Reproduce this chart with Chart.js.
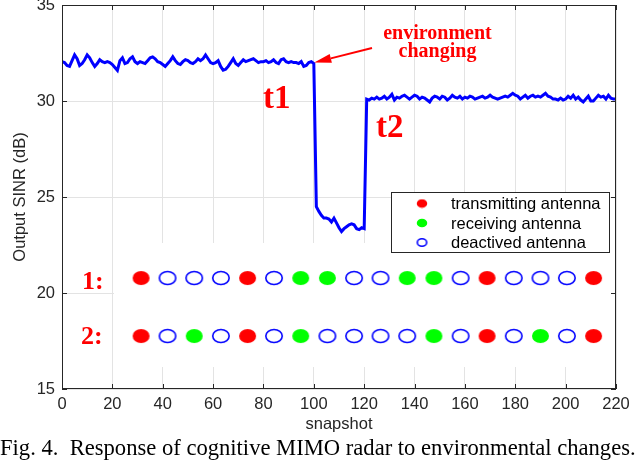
<!DOCTYPE html>
<html>
<head>
<meta charset="utf-8">
<script src="https://cdn.jsdelivr.net/npm/chart.js@4.4.1/dist/chart.umd.min.js"></script>
<style>
    html, body { margin: 0; padding: 0; background: #fff; }
    #wrap { position: relative; width: 640px; height: 464px; }
    #grafico { position: absolute; left: 0; top: 0; }
    #legenda-fig {
        position: absolute; left: 0; top: 435px;
        font-family: "Liberation Serif", "Times New Roman", serif;
        font-size: 22.6px; white-space: pre; color: #000;
    }
</style>
</head>
<body>
<div id="wrap">
    <canvas id="grafico" width="640" height="464"></canvas>
    <div id="legenda-fig">Fig. 4.  Response of cognitive MIMO radar to environmental changes.</div>
</div>
<script>
// Output SINR por snapshot (0..220)
const sinr = [
    32.05, 32.0, 31.85, 31.8, 32.1, 32.4, 32.2, 31.85, 31.95, 32.15,
    32.4, 32.25, 32.0, 31.8, 31.95, 32.15, 32.05, 32.0, 32.05, 32.0,
    31.9, 31.75, 31.6, 32.1, 32.25, 31.95, 32.0, 32.2, 32.3, 32.05,
    31.95, 32.05, 32.0, 31.95, 32.1, 32.25, 32.3, 32.2, 32.05, 32.0,
    31.9, 31.8, 31.95, 32.1, 32.3, 32.1, 31.95, 31.9, 32.05, 32.15,
    32.1, 32.0, 31.95, 32.05, 32.2, 32.1, 32.2, 32.4, 32.2, 32.0,
    31.95, 32.0, 32.1, 31.8, 31.6, 31.65, 31.8, 32.0, 32.2, 31.95,
    31.85, 32.0, 32.15, 32.05, 32.1, 32.15, 32.2, 32.1, 32.0, 32.05,
    32.05, 32.1, 32.0, 32.05, 32.15, 32.0, 31.95, 32.15, 32.2, 32.05,
    32.0, 32.05, 32.0, 32.0, 31.95, 32.05, 31.8, 31.85, 32.0, 32.05,
    31.95,
    24.5, 24.25, 24.05, 23.9, 23.9, 23.85, 23.7, 23.9, 23.65, 23.4,
    23.2, 23.35, 23.45, 23.55, 23.6, 23.55, 23.35, 23.3, 23.4, 23.35,
    30.1, 30.05, 30.15, 30.1, 30.2, 30.1, 30.15, 30.25, 30.1, 30.2,
    30.35, 30.05, 30.2, 30.15, 30.25, 30.3, 30.2, 30.1, 30.2, 30.3,
    30.25, 30.1, 30.2, 30.15, 30.05, 29.95, 30.15, 30.25, 30.2, 30.1,
    30.25, 30.2, 30.05, 30.15, 30.3, 30.2, 30.15, 30.25, 30.1, 30.2,
    30.15, 30.25, 30.2, 30.1, 30.15, 30.2, 30.25, 30.15, 30.2, 30.3,
    30.2, 30.15, 30.1, 30.15, 30.2, 30.25, 30.2, 30.3, 30.4, 30.3,
    30.25, 30.1, 30.2, 30.3, 30.15, 30.25, 30.3, 30.2, 30.25, 30.2,
    30.3, 30.4, 30.25, 30.2, 30.1, 30.1, 30.05, 30.15, 30.05, 30.1,
    30.25, 30.15, 30.3, 30.1, 30.2, 30.05, 29.95, 30.1, 30.25, 30.0,
    30.0, 30.15, 30.3, 30.2, 30.25, 30.1, 30.3, 30.15, 30.1, 30.1
];

// Antenas: posição no eixo x e estado (T = transmissora, R = receptora, D = desativada)
const posicoesAntena = [31.4, 41.9, 52.5, 63.1, 73.7, 84.2, 94.8, 105.4, 116.0,
    126.5, 137.1, 147.7, 158.3, 168.8, 179.4, 190.0, 200.5, 211.1];
const estadosLinha1 = ['T','D','D','D','T','D','R','R','D','D','R','R','D','T','D','D','D','T'];
const estadosLinha2 = ['T','D','R','D','T','D','R','D','D','D','D','R','D','T','D','R','D','T'];
const nivelLinha1 = 20.78;
const nivelLinha2 = 17.76;

const ticksX = [0, 20, 40, 60, 80, 100, 120, 140, 160, 180, 200, 220];
const ticksY = [15, 20, 25, 30, 35];
const rotulosLegenda = ['transmitting antenna', 'receiving antenna', 'deactived antenna'];

const VERMELHO = '#ff0000';
const VERDE = '#00ff00';
const AZUL = '#0000ff';
const EIXO = '#262626';
const fonteEixo = { family: 'Liberation Sans, Arial, sans-serif', size: 16.5 };

function criarMarcador(w, h, cor, preenchido) {
    const c = document.createElement('canvas');
    c.width = w + 2;
    c.height = h + 2;
    const g = c.getContext('2d');
    g.beginPath();
    if (preenchido) {
        g.ellipse(c.width / 2, c.height / 2, w / 2, h / 2, 0, 0, Math.PI * 2);
        g.fillStyle = cor;
        g.fill();
    } else {
        g.ellipse(c.width / 2, c.height / 2, w / 2 - 0.8, h / 2 - 0.8, 0, 0, Math.PI * 2);
        g.lineWidth = 1.6;
        g.strokeStyle = cor;
        g.stroke();
    }
    return c;
}

const marcadores = {
    T: criarMarcador(17, 14, VERMELHO, true),
    R: criarMarcador(17, 14, VERDE, true),
    D: criarMarcador(18, 14.5, AZUL, false)
};
const marcadoresLegenda = [
    criarMarcador(10.5, 8.5, VERMELHO, true),
    criarMarcador(10.5, 8.5, VERDE, true),
    criarMarcador(11, 9, AZUL, false)
];

function pontosDoEstado(estado) {
    const pts = [];
    estadosLinha1.forEach((e, i) => { if (e === estado) pts.push({ x: posicoesAntena[i], y: nivelLinha1 }); });
    estadosLinha2.forEach((e, i) => { if (e === estado) pts.push({ x: posicoesAntena[i], y: nivelLinha2 }); });
    return pts;
}

// Plugin com o retângulo branco, legenda, moldura e anotações
const pluginFigura = {
    id: 'figura',
    afterDatasetDraw(chart, args) {
        if (args.index !== 0) return;
        const ctx = chart.ctx;
        const x = chart.scales.x;
        // painel branco atrás das antenas
        ctx.save();
        ctx.fillStyle = '#ffffff';
        ctx.fillRect(114, 243, x.right - 114, 124);
        ctx.restore();
    },
    afterDatasetsDraw(chart) {
        const ctx = chart.ctx;
        const a = chart.chartArea;
        const sx = chart.scales.x;
        const sy = chart.scales.y;
        ctx.save();

        // moldura e ticks internos
        ctx.strokeStyle = EIXO;
        ctx.lineWidth = 1;
        ctx.strokeRect(a.left + 0.5, a.top + 0.5, a.right - a.left - 1, a.bottom - a.top - 1);
        ctx.beginPath();
        ticksX.forEach(v => {
            const px = Math.round(sx.getPixelForValue(v)) + 0.5;
            ctx.moveTo(px, a.bottom); ctx.lineTo(px, a.bottom - 5);
            ctx.moveTo(px, a.top); ctx.lineTo(px, a.top + 5);
        });
        ticksY.forEach(v => {
            const py = Math.round(sy.getPixelForValue(v)) + 0.5;
            ctx.moveTo(a.left, py); ctx.lineTo(a.left + 5, py);
            ctx.moveTo(a.right, py); ctx.lineTo(a.right - 5, py);
        });
        ctx.stroke();

        // caixa de legenda
        ctx.fillStyle = '#ffffff';
        ctx.fillRect(391, 192, 219, 61);
        ctx.strokeStyle = EIXO;
        ctx.strokeRect(391.5, 192.5, 218, 60);
        ctx.font = '16.5px "Liberation Sans", Arial, sans-serif';
        ctx.fillStyle = '#000';
        ctx.textBaseline = 'alphabetic';
        ctx.textAlign = 'left';
        const linhasLeg = [203.5, 223, 242.5];
        rotulosLegenda.forEach((txt, i) => {
            const m = marcadoresLegenda[i];
            ctx.drawImage(m, 422 - m.width / 2, linhasLeg[i] - m.height / 2);
            ctx.fillText(txt, 451, linhasLeg[i] + 5.5);
        });

        // anotações em vermelho
        ctx.fillStyle = VERMELHO;
        ctx.strokeStyle = VERMELHO;
        ctx.font = 'bold 33px "Liberation Serif", "Times New Roman", serif';
        ctx.textAlign = 'left';
        ctx.fillText('t1', 263, 108);
        ctx.fillText('t2', 376, 137);
        ctx.font = 'bold 26px "Liberation Serif", "Times New Roman", serif';
        ctx.fillText('1:', 82, 288.5);
        ctx.fillText('2:', 81, 343.5);
        ctx.font = 'bold 20px "Liberation Serif", "Times New Roman", serif';
        ctx.textAlign = 'center';
        ctx.fillText('environment', 437.5, 38.5);
        ctx.fillText('changing', 437.5, 56.5);

        // seta até o ponto t1
        const tipX = sx.getPixelForValue(100) + 0.5;
        const tipY = sy.getPixelForValue(sinr[100]) - 1;
        const tailX = 372, tailY = 48;
        const ang = Math.atan2(tipY - tailY, tipX - tailX);
        const headLen = 17, headW = 4.5;
        const baseX = tipX - headLen * Math.cos(ang);
        const baseY = tipY - headLen * Math.sin(ang);
        ctx.lineWidth = 2;
        ctx.beginPath();
        ctx.moveTo(tailX, tailY);
        ctx.lineTo(baseX, baseY);
        ctx.stroke();
        ctx.beginPath();
        ctx.moveTo(tipX, tipY);
        ctx.lineTo(baseX + headW * Math.sin(ang), baseY - headW * Math.cos(ang));
        ctx.lineTo(baseX - headW * Math.sin(ang), baseY + headW * Math.cos(ang));
        ctx.closePath();
        ctx.fill();

        ctx.restore();
    }
};

const ctx = document.getElementById('grafico').getContext('2d');
new Chart(ctx, {
    type: 'line',
    data: {
        datasets: [
            {
                label: 'SINR',
                data: sinr.map((v, i) => ({ x: i, y: v })),
                borderColor: AZUL,
                borderWidth: 3,
                pointRadius: 0,
                tension: 0,
                fill: false,
                order: 10
            },
            {
                type: 'scatter',
                label: rotulosLegenda[0],
                data: pontosDoEstado('T'),
                pointStyle: marcadores.T,
                order: 1
            },
            {
                type: 'scatter',
                label: rotulosLegenda[1],
                data: pontosDoEstado('R'),
                pointStyle: marcadores.R,
                order: 1
            },
            {
                type: 'scatter',
                label: rotulosLegenda[2],
                data: pontosDoEstado('D'),
                pointStyle: marcadores.D,
                order: 1
            }
        ]
    },
    plugins: [pluginFigura],
    options: {
        responsive: false,
        animation: false,
        layout: { autoPadding: false, padding: { top: 5, right: 24, left: 0, bottom: 0 } },
        plugins: {
            legend: { display: false },
            tooltip: { enabled: false }
        },
        scales: {
            x: {
                type: 'linear',
                min: 0,
                max: 220,
                afterBuildTicks: s => { s.ticks = ticksX.map(v => ({ value: v })); },
                ticks: { font: fonteEixo, color: EIXO, padding: 6, maxRotation: 0 },
                grid: { color: '#e3e3e3', drawTicks: false },
                border: { display: false },
                title: { display: true, text: 'snapshot', font: fonteEixo, color: EIXO, padding: { top: 30, bottom: 30 } },
                afterFit: s => { s.height = 75; s.paddingLeft = 0; s.paddingRight = 0; }
            },
            y: {
                min: 15,
                max: 35,
                afterBuildTicks: s => { s.ticks = ticksY.map(v => ({ value: v })); },
                ticks: { font: fonteEixo, color: EIXO, padding: 7 },
                grid: { color: '#e3e3e3', drawTicks: false },
                border: { display: false },
                title: { display: true, text: 'Output SINR (dB)', font: fonteEixo, color: EIXO, padding: { top: 11, bottom: 11 } },
                afterFit: s => { s.width = 62; s.paddingTop = 0; s.paddingBottom = 0; }
            }
        }
    }
});
</script>
</body>
</html>
